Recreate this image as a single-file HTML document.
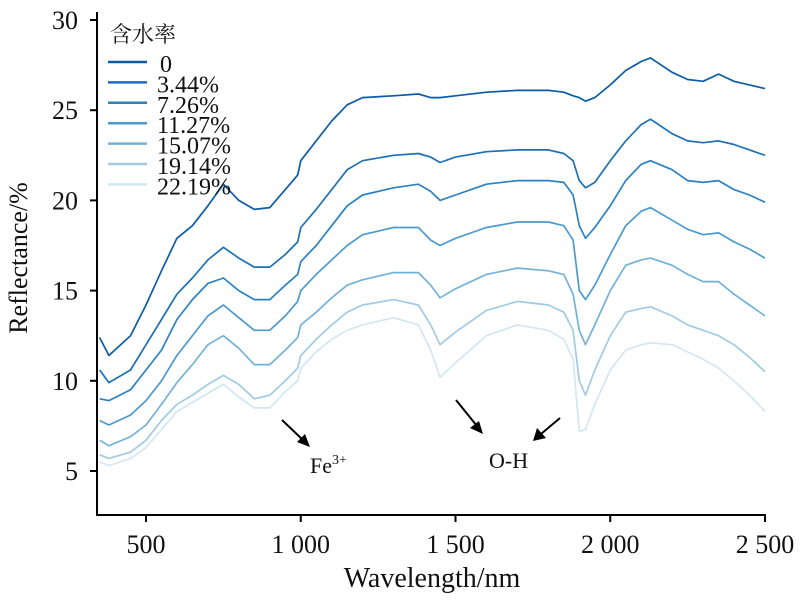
<!DOCTYPE html>
<html><head><meta charset="utf-8"><style>
html,body{margin:0;padding:0;background:#fff;}
svg text{font-family:"Liberation Serif","Noto Serif CJK SC",serif;fill:#111;}
</style></head><body>
<svg id="chart" width="800" height="598" viewBox="0 0 800 598" xmlns="http://www.w3.org/2000/svg">
<g id="axes"></g>
<g id="series"></g>
<g id="legend"></g>
<g>
 <line x1="282" y1="420" x2="303" y2="440" stroke="#000" stroke-width="2"/>
 <polygon points="310,447 297,442 305,434" fill="#000"/>
 <text x="310" y="473" font-size="22">Fe<tspan font-size="14" dy="-9">3+</tspan></text>
 <line x1="456" y1="400" x2="477" y2="426" stroke="#000" stroke-width="2"/>
 <polygon points="483,434 470,428 479,421" fill="#000"/>
 <line x1="560" y1="418" x2="541" y2="434" stroke="#000" stroke-width="2"/>
 <polygon points="533,441 537,428 546,438" fill="#000"/>
 <text x="489" y="468" font-size="22">O-H</text>
</g>
</svg>
<script>
const wavelengths=[350,380,450,500,550,600,650,700,750,800,850,900,950,990,1000,1050,1100,1150,1200,1300,1380,1420,1450,1500,1600,1700,1800,1850,1880,1900,1920,1950,2000,2050,2100,2130,2200,2250,2300,2350,2400,2450,2500];
const series0=[12.4,11.4,12.5,14.2,16.1,17.9,18.6,19.7,20.9,20.0,19.5,19.6,20.6,21.4,22.2,23.3,24.4,25.3,25.7,25.8,25.9,25.7,25.7,25.8,26.0,26.1,26.1,26.0,25.8,25.7,25.5,25.7,26.4,27.2,27.7,27.9,27.1,26.7,26.6,27.0,26.6,26.4,26.2];
const series1=[10.6,9.9,10.6,12.0,13.4,14.8,15.7,16.7,17.4,16.8,16.3,16.3,17.0,17.7,18.5,19.5,20.6,21.7,22.2,22.5,22.6,22.4,22.1,22.4,22.7,22.8,22.8,22.6,22.2,21.1,20.7,21.0,22.2,23.3,24.2,24.5,23.7,23.3,23.2,23.3,23.1,22.8,22.5];
const series2=[9.0,8.9,9.5,10.6,11.7,13.4,14.5,15.4,15.7,15.0,14.5,14.5,15.3,15.9,16.6,17.5,18.6,19.7,20.3,20.7,20.9,20.5,20.0,20.3,20.9,21.1,21.1,21.0,20.3,18.6,17.9,18.5,19.7,21.1,22.0,22.2,21.7,21.1,21.0,21.1,20.6,20.3,19.9];
const series3=[7.8,7.55,8.1,8.9,10.0,11.4,12.5,13.6,14.2,13.5,12.8,12.8,13.6,14.4,15.0,15.9,16.7,17.5,18.1,18.5,18.5,17.8,17.5,17.9,18.5,18.8,18.8,18.6,17.8,15.0,14.5,15.3,17.0,18.6,19.4,19.6,18.9,18.4,18.1,18.2,17.7,17.3,16.8];
const series4=[6.7,6.4,6.9,7.55,8.7,9.9,10.9,12.0,12.5,11.8,10.9,10.9,11.7,12.4,13.1,13.8,14.6,15.3,15.6,16.0,16.0,15.3,14.6,15.1,15.9,16.25,16.1,15.9,14.8,12.8,12.0,13.1,15.0,16.4,16.7,16.8,16.4,15.9,15.5,15.5,14.8,14.2,13.6];
const series5=[5.9,5.7,6.05,6.7,7.8,8.7,9.2,9.8,10.3,9.8,9.0,9.2,10.0,10.7,11.4,12.3,13.1,13.8,14.2,14.5,14.2,13.1,12.0,12.7,13.9,14.4,14.2,13.8,12.8,10.0,9.2,10.6,12.5,13.8,14.0,14.1,13.6,13.1,12.8,12.5,12.0,11.3,10.5];
const series6=[5.5,5.3,5.7,6.3,7.3,8.3,8.8,9.3,9.8,9.1,8.5,8.5,9.4,10.0,10.7,11.6,12.3,12.8,13.1,13.5,13.1,11.7,10.2,11.0,12.5,13.1,12.8,12.3,11.2,7.2,7.3,8.7,10.6,11.7,12.0,12.1,12.0,11.6,11.2,10.7,10.0,9.2,8.3];
const seriesLabels=["0","3.44%","7.26%","11.27%","15.07%","19.14%","22.19%"];
const xTicks=[500,1000,1500,2000,2500];
const xTickLabels=["500","1 000","1 500","2 000","2 500"];
const yTicks=[5,10,15,20,25,30];

const NS="http://www.w3.org/2000/svg";
const colors=["#0b5ca6","#1b70b6","#2b82c2","#4c9bce","#72b2d9","#a0cbe4","#d2e7f2"];
const X0=97,X1=766,Y0=515;
function xs(w){return 146+(w-500)*(765-146)/2000;}
function ys(v){return 471-(v-5)*(471-20)/25;}
function mk(tag,attrs,parent){const e=document.createElementNS(NS,tag);for(const k in attrs)e.setAttribute(k,attrs[k]);parent.appendChild(e);return e;}
const axes=document.getElementById('axes');
let a=mk('line',{x1:X0,y1:12,x2:X0,y2:Y0,stroke:'#000','stroke-width':2},axes);


a=mk('line',{x1:X0-1,y1:Y0,x2:X1,y2:Y0,stroke:'#000','stroke-width':2},axes);


xTicks.forEach((t,i)=>{
 const tk=mk('line',{x1:xs(t),y1:Y0,x2:xs(t),y2:Y0+7,stroke:'#000','stroke-width':2},axes);
 
 
 const tl=mk('text',{x:xs(t),y:Y0+38,'font-size':26,'text-anchor':'middle'},axes);
 tl.textContent=xTickLabels[i];
 
 
});
yTicks.forEach(t=>{
 const tk=mk('line',{x1:X0-7,y1:ys(t),x2:X0,y2:ys(t),stroke:'#000','stroke-width':2},axes);
 
 
 const tl=mk('text',{x:X0-19,y:ys(t)+9,'font-size':26,'text-anchor':'end'},axes);
 tl.textContent=String(t);
 
 
});
let tt=mk('text',{x:432,y:587,'font-size':28,'text-anchor':'middle'},axes);
tt.textContent="Wavelength/nm";


tt=mk('text',{x:0,y:0,'font-size':26,'text-anchor':'middle',transform:'translate(27,258) rotate(-90)'},axes);
tt.textContent="Reflectance/%";



const all=[series0,series1,series2,series3,series4,series5,series6];
const sg=document.getElementById('series');
for(let s=all.length-1;s>=0;s--){
 const d=all[s].map((v,i)=>(i?'L':'M')+xs(wavelengths[i]).toFixed(1)+','+ys(v).toFixed(1)).join(' ');
 const p=mk('path',{d:d,fill:'none',stroke:colors[s],'stroke-width':1.7,'stroke-linejoin':'round'},sg);
 
 
}
const lg=document.getElementById('legend');
let lt=mk('text',{x:110,y:42,'font-size':22},lg);
lt.textContent="含水率";


seriesLabels.forEach((lab,i)=>{
 const y=62+i*20.4;
 const l=mk('line',{x1:108,y1:y,x2:147,y2:y,stroke:colors[i],'stroke-width':2.5},lg);
 
 
 const t=mk('text',{x:i===0?160:157,y:y+10,'font-size':24},lg);
 t.textContent=lab;
 
 
});
</script>
</body></html>
